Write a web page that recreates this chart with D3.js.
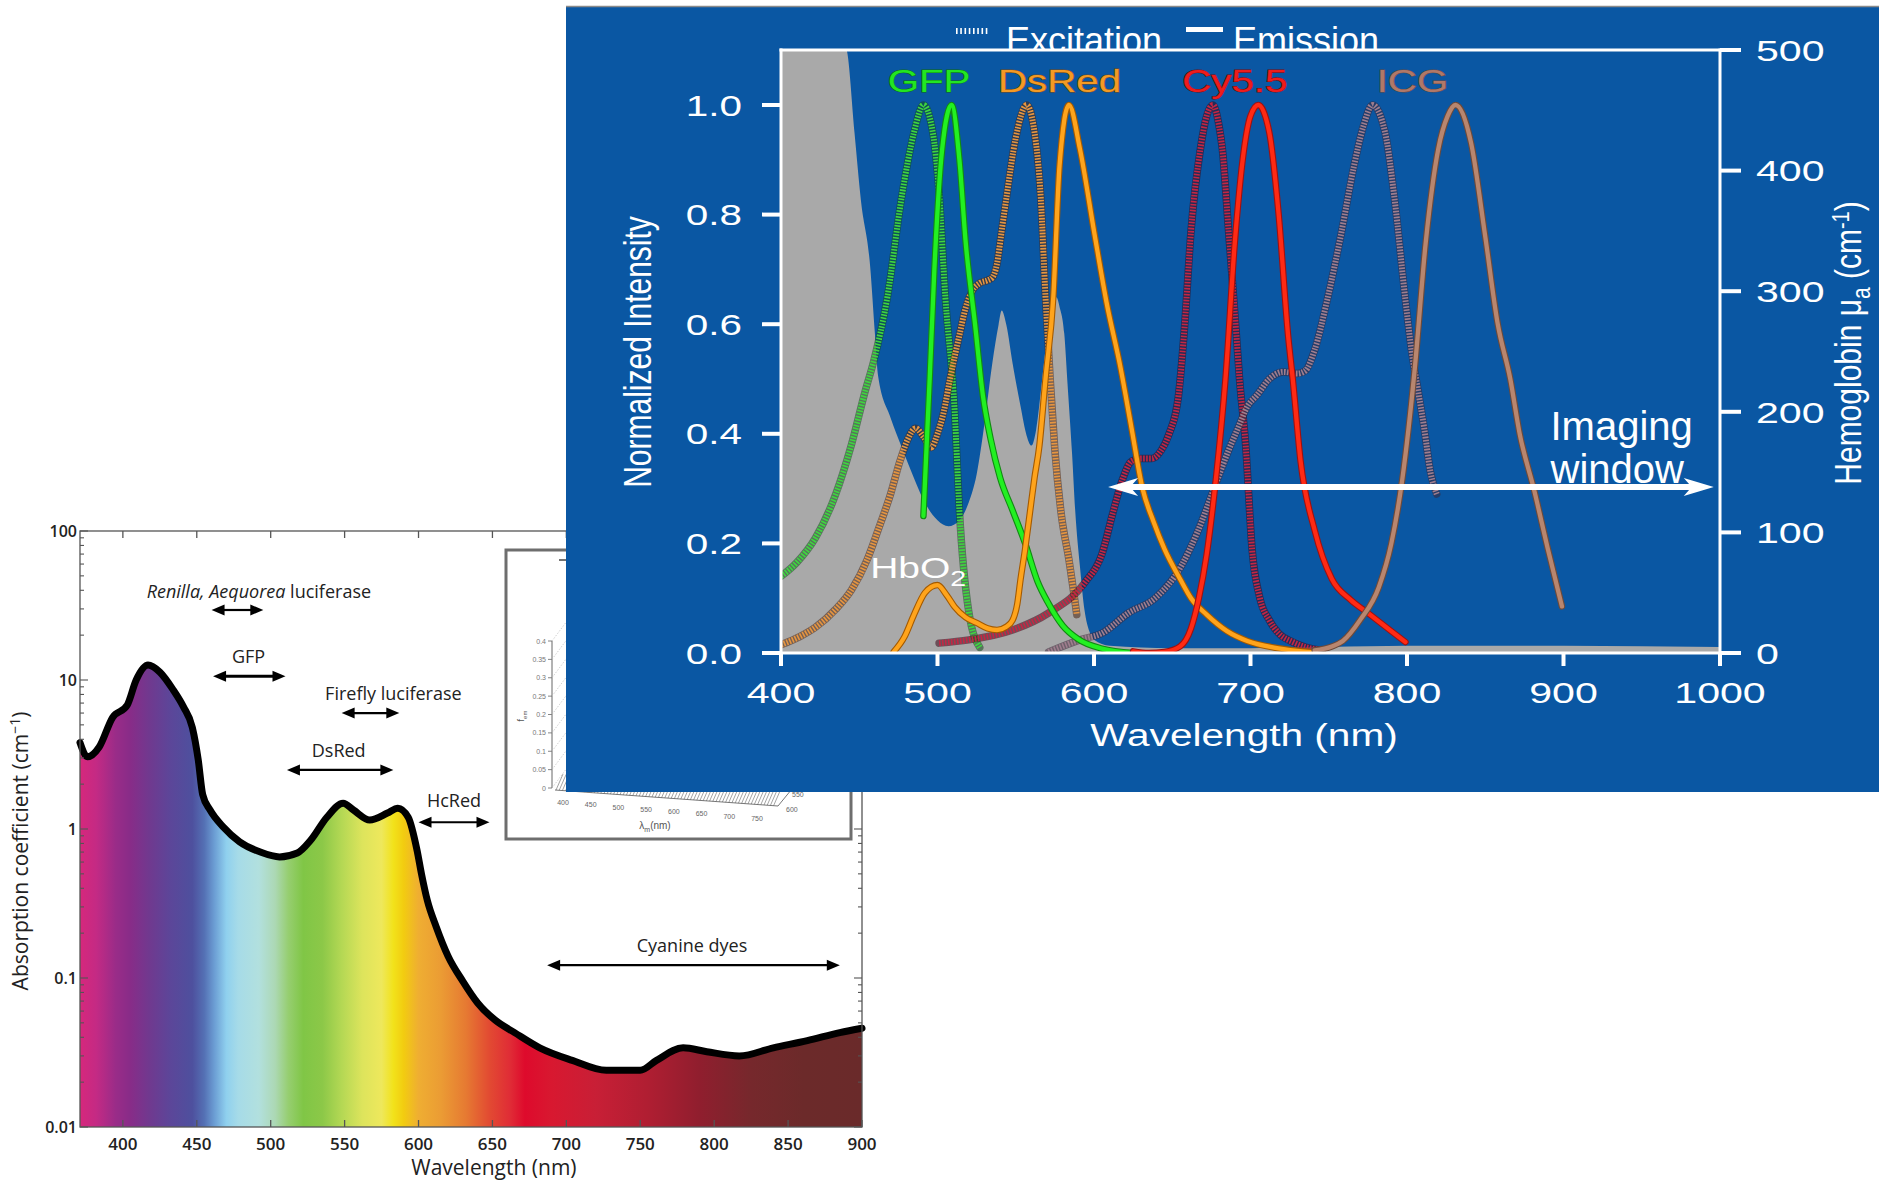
<!DOCTYPE html>
<html>
<head>
<meta charset="utf-8">
<script src="https://cdn.jsdelivr.net/npm/d3@7"></script>
<style>
  body { margin: 0; background: #fff; }
  svg { display: block; }
</style>
</head>
<body>
<div id="chart"></div>
<script>
// ---------- left figure: tissue absorption (log scale) ----------
const absorption = [
  [371, 3.8], [376, 3.05], [384, 3.55], [393, 5.6], [403, 6.8], [409, 10], [417, 12.6], [425, 11.3],
  [434, 8.6], [441, 6.6], [447, 4.8], [451, 2.9], [454, 1.7], [459, 1.34], [468, 1.03], [479, 0.82],
  [493, 0.70], [506, 0.65], [518, 0.69], [527, 0.84], [538, 1.2], [549, 1.49], [556, 1.34], [567, 1.15],
  [579, 1.28], [586, 1.38], [593, 1.2], [599, 0.72], [602, 0.5], [606, 0.33], [612, 0.22], [620, 0.14],
  [630, 0.095], [640, 0.068], [652, 0.052], [665, 0.043], [682, 0.034], [704, 0.028], [727, 0.024],
  [750, 0.024], [761, 0.028], [779, 0.034], [795, 0.032], [817, 0.030], [840, 0.034], [863, 0.038],
  [885, 0.043], [900, 0.046]
];
const spectrumStops = [
  [371, "#d6287c"], [382, "#c42a84"], [395, "#9a2c88"], [405, "#882c88"], [418, "#70398f"],
  [432, "#5c4699"], [447, "#4e509e"], [455, "#5470b4"], [462, "#6c9ed4"], [470, "#8fd0ee"],
  [478, "#a6dbe8"], [492, "#b2e0de"], [503, "#acd8b4"], [512, "#96ce70"], [522, "#80c646"],
  [535, "#8cc848"], [548, "#b4d854"], [562, "#dde45c"], [575, "#eee85c"], [583, "#f2e21a"],
  [590, "#f2cc10"], [600, "#efae32"], [615, "#eb9c34"], [632, "#e67a32"], [648, "#e24a32"],
  [662, "#e02c36"], [672, "#de0a2c"], [690, "#d81830"], [720, "#c81f36"], [755, "#b01e32"],
  [790, "#901e2e"], [825, "#76282c"], [860, "#6c2a2a"], [900, "#6a2a2a"]
];
const absXTicks = [400, 450, 500, 550, 600, 650, 700, 750, 800, 850, 900];
const absYTicks = [0.01, 0.1, 1, 10, 100];
const absYLabels = ["0.01", "0.1", "1", "10", "100"];

const probeNames = ["Renilla, Aequorea luciferase", "GFP", "Firefly luciferase", "DsRed", "HcRed", "Cyanine dyes"];
const probeFrom = [460, 461, 548, 511, 600, 687];
const probeTo = [495, 510, 587, 583, 648, 885];
const probeArrowY = [29.5, 10.6, 6.0, 2.49, 1.11, 0.122];
const probeTextX = [492, 485, 583, 546, 624, 785];
const probeTextY = [35.5, 13, 7.3, 3.04, 1.4, 0.15];

// inset (mostly hidden)
const insetYTicks = ["0.4", "0.35", "0.3", "0.25", "0.2", "0.15", "0.1", "0.05", "0"];
const insetXTicks = [400, 450, 500, 550, 600, 650, 700, 750];

// ---------- right figure: fluorophore spectra ----------
const hbAbs = [
  [400, 600], [442, 500], [447, 431], [451, 376], [457, 320], [460, 265], [462, 230], [470, 195],
  [477, 171], [485, 145], [491, 127], [500, 110], [507, 105], [514, 110], [520, 125], [525, 148],
  [530, 190], [535, 240], [539, 272], [541, 284], [544, 272], [548, 240], [553, 205], [557, 180],
  [560, 172], [563, 185], [567, 228], [571, 272], [574, 290], [576, 295], [578, 287], [581, 265],
  [583, 225], [586, 165], [588, 118], [591, 72], [594, 35], [597, 18], [600, 11], [610, 6], [650, 4],
  [700, 4], [750, 5], [800, 6], [900, 6], [1000, 5]
];
const gfpEx = [
  [400, 0.14], [410, 0.165], [422, 0.21], [435, 0.29], [445, 0.38], [454, 0.48], [459, 0.53],
  [468, 0.65], [477, 0.83], [485, 0.95], [491, 1.0], [497, 0.95], [501, 0.84], [505, 0.65],
  [511, 0.44], [514, 0.26], [520, 0.075], [527, 0.01]
];
const gfpEm = [
  [491, 0.25], [495, 0.5], [498, 0.7], [503, 0.92], [509, 1.0], [514, 0.9], [518, 0.75], [524, 0.6],
  [529, 0.47], [534, 0.39], [540, 0.32], [548, 0.26], [556, 0.2], [564, 0.13], [571, 0.09],
  [580, 0.05], [590, 0.025], [605, 0.008], [625, 0.0]
];
const dsredEx = [
  [400, 0.015], [412, 0.03], [422, 0.047], [435, 0.08], [445, 0.115], [455, 0.17], [462, 0.224],
  [470, 0.29], [476, 0.35], [481, 0.39], [486, 0.41], [491, 0.395], [496, 0.375], [500, 0.4],
  [504, 0.44], [508, 0.5], [514, 0.58], [518, 0.63], [522, 0.66], [527, 0.675], [532, 0.68],
  [535, 0.685], [538, 0.71], [541, 0.77], [544, 0.83], [550, 0.94], [557, 1.0], [562, 0.95],
  [566, 0.83], [569, 0.65], [572, 0.5], [575, 0.37], [579, 0.255], [584, 0.17], [589, 0.07]
];
const dsredEm = [
  [472, 0.002], [479, 0.03], [485, 0.07], [492, 0.11], [500, 0.124], [506, 0.105], [511, 0.084],
  [518, 0.065], [525, 0.055], [532, 0.045], [538, 0.042], [544, 0.048], [548, 0.06], [551, 0.09],
  [553, 0.133], [556, 0.19], [559, 0.255], [562, 0.32], [565, 0.376], [569, 0.5], [574, 0.65],
  [578, 0.89], [584, 1.0], [591, 0.92], [600, 0.77], [608, 0.64], [617, 0.52], [624, 0.41],
  [631, 0.3], [638, 0.24], [645, 0.19], [655, 0.135], [662, 0.1], [672, 0.07], [685, 0.04],
  [698, 0.022], [715, 0.01], [730, 0.004], [746, 0.0]
];
const cy55Ex = [
  [501, 0.018], [520, 0.024], [548, 0.042], [571, 0.073], [594, 0.128], [605, 0.18], [612, 0.255],
  [618, 0.315], [624, 0.35], [630, 0.355], [637, 0.355], [643, 0.37], [648, 0.4], [654, 0.47],
  [658, 0.6], [662, 0.77], [668, 0.92], [672, 0.98], [676, 1.0], [680, 0.96], [682, 0.92],
  [686, 0.77], [691, 0.58], [693, 0.5], [697, 0.376], [701, 0.19], [706, 0.1], [712, 0.06],
  [718, 0.036], [727, 0.02], [735, 0.011], [746, 0.005]
];
const cy55Em = [
  [625, 0.003], [635, 0.0], [645, 0.002], [655, 0.012], [662, 0.045], [667, 0.1], [672, 0.18],
  [678, 0.32], [684, 0.5], [690, 0.75], [695, 0.9], [700, 0.98], [705, 1.0], [712, 0.95],
  [718, 0.8], [724, 0.58], [727, 0.5], [732, 0.35], [741, 0.224], [752, 0.135], [764, 0.097],
  [775, 0.073], [789, 0.042], [799, 0.02]
];
const icgEx = [
  [571, 0.002], [591, 0.024], [605, 0.036], [622, 0.073], [639, 0.1], [656, 0.16], [666, 0.22],
  [678, 0.31], [686, 0.37], [692, 0.41], [698, 0.45], [704, 0.47], [712, 0.5], [721, 0.513],
  [730, 0.51], [735, 0.515], [741, 0.553], [749, 0.644], [758, 0.766], [766, 0.887], [772, 0.96],
  [778, 1.0], [786, 0.95], [792, 0.83], [799, 0.644], [803, 0.55], [807, 0.48], [811, 0.41],
  [815, 0.33], [819, 0.29]
];
const icgEm = [
  [741, 0.005], [752, 0.012], [759, 0.022], [770, 0.06], [782, 0.12], [790, 0.2], [797, 0.317],
  [805, 0.52], [812, 0.75], [820, 0.92], [826, 0.98], [831, 1.0], [841, 0.93], [850, 0.76],
  [858, 0.6], [866, 0.5], [872, 0.4], [881, 0.3], [890, 0.19], [899, 0.085]
];
const dyeNames = ["GFP", "DsRed", "Cy5.5", "ICG"];
const dyeLabelX = [494.6, 578, 690, 803.5];
const dyeLabelY = 1.024;
const intensityTicks = [0, 0.2, 0.4, 0.6, 0.8, 1.0];
const hbTicks = [0, 100, 200, 300, 400, 500];
const wlTicks = [400, 500, 600, 700, 800, 900, 1000];
const windowArrow = [609, 996];
const windowArrowY = 0.303;

// ----------------------------------------------------------------
const W = 1879, H = 1183;
const svg = d3.select("#chart").append("svg").attr("width", W).attr("height", H);
const defs = svg.append("defs");

// ===== left chart =====
const xA = d3.scaleLinear().domain([371, 900]).range([80, 862]);
const yA = d3.scaleLog().domain([0.01, 100]).range([1127, 531]);

const grad = defs.append("linearGradient").attr("id", "spec")
  .attr("gradientUnits", "userSpaceOnUse")
  .attr("x1", xA(371)).attr("x2", xA(900)).attr("y1", 0).attr("y2", 0);
spectrumStops.forEach(([nm, c]) => {
  grad.append("stop").attr("offset", (nm - 371) / (900 - 371)).attr("stop-color", c);
});

const left = svg.append("g").style("font-family", "'Open Sans', 'DejaVu Sans', sans-serif");

left.append("path").datum(absorption)
  .attr("d", d3.area().x(d => xA(d[0])).y0(yA(0.01)).y1(d => yA(d[1])).curve(d3.curveMonotoneX))
  .attr("fill", "url(#spec)");

left.append("path").datum(absorption)
  .attr("d", d3.line().x(d => xA(d[0])).y(d => yA(d[1])).curve(d3.curveMonotoneX))
  .attr("fill", "none").attr("stroke", "#000").attr("stroke-width", 7)
  .attr("stroke-linejoin", "round").attr("stroke-linecap", "round");

// frame and ticks
left.append("rect")
  .attr("x", xA(371)).attr("y", yA(100))
  .attr("width", xA(900) - xA(371)).attr("height", yA(0.01) - yA(100))
  .attr("fill", "none").attr("stroke", "#555").attr("stroke-width", 1.3);

absXTicks.forEach(t => {
  left.append("line").attr("x1", xA(t)).attr("x2", xA(t)).attr("y1", yA(0.01)).attr("y2", yA(0.01) - 7)
    .attr("stroke", "#555").attr("stroke-width", 1.3);
  left.append("line").attr("x1", xA(t)).attr("x2", xA(t)).attr("y1", yA(100)).attr("y2", yA(100) + 7)
    .attr("stroke", "#555").attr("stroke-width", 1.3);
  left.append("text").attr("x", xA(t)).attr("y", 1150).attr("text-anchor", "middle")
    .style("font-size", "17px").style("font-weight", 600).attr("fill", "#222").text(t);
});

yA.ticks().forEach(t => {
  const major = absYTicks.includes(t);
  const len = major ? 8 : 4;
  left.append("line").attr("x1", xA(371)).attr("x2", xA(371) + len).attr("y1", yA(t)).attr("y2", yA(t))
    .attr("stroke", "#555").attr("stroke-width", 1.1);
  left.append("line").attr("x1", xA(900)).attr("x2", xA(900) - len).attr("y1", yA(t)).attr("y2", yA(t))
    .attr("stroke", "#555").attr("stroke-width", 1.1);
});
absYTicks.forEach((t, i) => {
  left.append("text").attr("x", xA(371) - 3).attr("y", yA(t) + 6).attr("text-anchor", "end")
    .style("font-size", "16px").style("font-weight", 600).attr("fill", "#222").text(absYLabels[i]);
});

left.append("text").attr("x", xA(651)).attr("y", 1175).attr("text-anchor", "middle")
  .style("font-size", "21px").attr("fill", "#222").text("Wavelength (nm)");

const yTitle = left.append("text").attr("transform", "translate(28,851) rotate(-90)")
  .attr("text-anchor", "middle").style("font-size", "21px").attr("fill", "#222");
yTitle.append("tspan").text("Absorption coefficient (cm");
yTitle.append("tspan").attr("dy", -8).style("font-size", "14px").text("\u22121");
yTitle.append("tspan").attr("dy", 8).text(")");

// probe annotations
function arrowH(g, x1, x2, y, w, head, hw) {
  g.append("line").attr("x1", x1 + head - 1).attr("x2", x2 - head + 1).attr("y1", y).attr("y2", y)
    .attr("stroke", "#000").attr("stroke-width", w);
  g.append("path").attr("d", `M${x1},${y} L${x1 + head},${y - hw} L${x1 + head},${y + hw} Z`).attr("fill", "#000");
  g.append("path").attr("d", `M${x2},${y} L${x2 - head},${y - hw} L${x2 - head},${y + hw} Z`).attr("fill", "#000");
}
probeNames.forEach((name, i) => {
  arrowH(left, xA(probeFrom[i]), xA(probeTo[i]), yA(probeArrowY[i]), i === 1 ? 2.8 : 2.2, 13, 5.5);
  const t = left.append("text").attr("x", xA(probeTextX[i])).attr("y", yA(probeTextY[i]))
    .attr("text-anchor", "middle").style("font-size", "18px").attr("fill", "#222");
  if (i === 0) {
    t.append("tspan").style("font-style", "italic").text("Renilla, Aequorea");
    t.append("tspan").text(" luciferase");
  } else {
    t.text(name);
  }
});

// inset box (3D emission plot, mostly covered)
const inset = svg.append("g").style("font-family", "'Liberation Sans', Arial, sans-serif");
inset.append("rect").attr("x", 506).attr("y", 550).attr("width", 345).attr("height", 289)
  .attr("fill", "#fff").attr("stroke", "#6e6e6e").attr("stroke-width", 3);
const yIn = d3.scalePoint().domain(insetYTicks).range([641, 788]);
inset.append("line").attr("x1", 552).attr("x2", 552).attr("y1", 641).attr("y2", 788)
  .attr("stroke", "#666").attr("stroke-width", 1);
insetYTicks.forEach(t => {
  inset.append("line").attr("x1", 548).attr("x2", 552).attr("y1", yIn(t)).attr("y2", yIn(t))
    .attr("stroke", "#666").attr("stroke-width", 0.8);
  inset.append("text").attr("x", 546).attr("y", yIn(t) + 2.5).attr("text-anchor", "end")
    .style("font-size", "7px").attr("fill", "#777").text(t);
  inset.append("line").attr("x1", 552).attr("x2", 600).attr("y1", yIn(t)).attr("y2", yIn(t) - 64)
    .attr("stroke", "#bbb").attr("stroke-width", 0.7).attr("stroke-dasharray", "1.5,1.5");
});
inset.append("line").attr("x1", 559).attr("x2", 566).attr("y1", 560).attr("y2", 560).attr("stroke", "#444").attr("stroke-width", 1.5);
const fem = inset.append("text").attr("transform", "translate(524,716) rotate(-90)")
  .attr("text-anchor", "middle").style("font-size", "9px").attr("fill", "#555");
fem.append("tspan").text("f");
fem.append("tspan").attr("dy", 3).style("font-size", "6px").text("em");

const xIn = d3.scaleLinear().domain([400, 750]).range([563, 757]);
const yInX = d3.scaleLinear().domain([400, 750]).range([802, 818]);
const floorEdge = d3.scaleLinear().domain([555, 778]).range([790, 806]);
d3.range(556, 776, 3.2).forEach(x => {
  inset.append("line").attr("x1", x).attr("y1", floorEdge(x)).attr("x2", x + 7).attr("y2", floorEdge(x) - 16)
    .attr("stroke", "#666").attr("stroke-width", 0.6);
});
inset.append("line").attr("x1", 555).attr("y1", 790).attr("x2", 778).attr("y2", 806).attr("stroke", "#555").attr("stroke-width", 0.8);
inset.append("line").attr("x1", 778).attr("y1", 806).attr("x2", 796).attr("y2", 784).attr("stroke", "#555").attr("stroke-width", 0.8);
insetXTicks.forEach(t => {
  inset.append("text").attr("x", xIn(t)).attr("y", yInX(t) + 3).attr("text-anchor", "middle")
    .style("font-size", "7px").attr("fill", "#666").text(t);
});
inset.append("text").attr("x", 786).attr("y", 812).style("font-size", "7px").attr("fill", "#666").text("600");
inset.append("text").attr("x", 792).attr("y", 797).style("font-size", "7px").attr("fill", "#666").text("550");
const lam = inset.append("text").attr("x", 655).attr("y", 829).attr("text-anchor", "middle")
  .style("font-size", "10px").attr("fill", "#555");
lam.append("tspan").text("\u03bb");
lam.append("tspan").attr("dy", 3).style("font-size", "7px").text("m");
lam.append("tspan").attr("dy", -3).text("(nm)");

// ===== right chart (blue panel) =====
const xB = d3.scaleLinear().domain([400, 1000]).range([781, 1720]);
const yL = d3.scaleLinear().domain([0, 1]).range([653, 105]);
const yR = d3.scaleLinear().domain([0, 500]).range([653, 50]);
const SX = 1.37; // source chart was stretched horizontally

const blue = svg.append("g").style("font-family", "'Liberation Sans', Arial, sans-serif");
blue.append("rect").attr("x", 566).attr("y", 6).attr("width", W - 566).attr("height", 786).attr("fill", "#0a57a3");
blue.append("line").attr("x1", 566).attr("x2", W).attr("y1", 6.5).attr("y2", 6.5).attr("stroke", "#8a8a8a").attr("stroke-width", 1.5);

defs.append("clipPath").attr("id", "plotClip").append("rect")
  .attr("x", xB(400)).attr("y", yR(500)).attr("width", xB(1000) - xB(400)).attr("height", yR(0) - yR(500));
defs.append("clipPath").attr("id", "legClip").append("rect")
  .attr("x", 566).attr("y", 6).attr("width", W - 566).attr("height", 45);

const plot = blue.append("g").attr("clip-path", "url(#plotClip)");
plot.append("path").datum(hbAbs)
  .attr("d", d3.area().x(d => xB(d[0])).y0(yR(0)).y1(d => yR(d[1])).curve(d3.curveMonotoneX))
  .attr("fill", "#a9a9a9");

const lineL = d3.line().x(d => xB(d[0])).y(d => yL(d[1])).curve(d3.curveMonotoneX);
const series = [
  { data: gfpEx, color: "#3fd63f", dark: "#124a1c", dotted: true },
  { data: dsredEx, color: "#e69540", dark: "#4a2410", dotted: true },
  { data: cy55Ex, color: "#c42644", dark: "#3a0818", dotted: true },
  { data: icgEx, color: "#a07e8e", dark: "#3c2638", dotted: true },
  { data: gfpEm, color: "#22f022", dark: "#128a12", dotted: false },
  { data: dsredEm, color: "#ffa41c", dark: "#a45a00", dotted: false },
  { data: cy55Em, color: "#ff2a14", dark: "#a01010", dotted: false },
  { data: icgEm, color: "#b8866f", dark: "#6e4a3a", dotted: false }
];
series.forEach(s => {
  plot.append("path").datum(s.data).attr("d", lineL).attr("fill", "none")
    .attr("stroke", s.dark).attr("stroke-width", s.dotted ? 7.5 : 6.5)
    .attr("stroke-opacity", s.dotted ? 0.55 : 1)
    .attr("stroke-linejoin", "round").attr("stroke-linecap", "round");
  plot.append("path").datum(s.data).attr("d", lineL).attr("fill", "none")
    .attr("stroke", s.color).attr("stroke-width", s.dotted ? 6 : 4.3)
    .attr("stroke-dasharray", s.dotted ? "1.6,1.4" : null)
    .attr("stroke-linejoin", "round").attr("stroke-linecap", s.dotted ? "butt" : "round");
});

// frame
const white = "#fff";
[[xB(400), yR(500), xB(1000), yR(500)], [xB(400), yR(0), xB(1000), yR(0)],
 [xB(400), yR(500), xB(400), yR(0)], [xB(1000), yR(500), xB(1000), yR(0)]].forEach(([x1, y1, x2, y2]) => {
  blue.append("line").attr("x1", x1).attr("y1", y1).attr("x2", x2).attr("y2", y2)
    .attr("stroke", white).attr("stroke-width", 3).attr("stroke-linecap", "square");
});

function sText(g, x, y, str, size, anchor, sx) {
  return g.append("text")
    .attr("transform", `translate(${x},${y}) scale(${sx},1)`)
    .attr("text-anchor", anchor).style("font-size", size + "px").attr("fill", white).text(str);
}

intensityTicks.forEach(t => {
  blue.append("line").attr("x1", xB(400) - 19).attr("x2", xB(400)).attr("y1", yL(t)).attr("y2", yL(t))
    .attr("stroke", white).attr("stroke-width", 4);
  sText(blue, 742, yL(t) + 10.5, d3.format(".1f")(t), 29.5, "end", SX);
});
hbTicks.forEach(t => {
  blue.append("line").attr("x1", xB(1000)).attr("x2", xB(1000) + 21).attr("y1", yR(t)).attr("y2", yR(t))
    .attr("stroke", white).attr("stroke-width", 4);
  sText(blue, 1756, yR(t) + 10.8, t, 30, "start", SX);
});
wlTicks.forEach(t => {
  blue.append("line").attr("x1", xB(t)).attr("x2", xB(t)).attr("y1", yR(0)).attr("y2", yR(0) + 13)
    .attr("stroke", white).attr("stroke-width", 4);
  sText(blue, xB(t), 703, t, 30, "middle", SX);
});

sText(blue, 1244, 746, "Wavelength (nm)", 31, "middle", 1.31);

blue.append("text").attr("transform", `translate(651,352) scale(1.3,1) rotate(-90)`)
  .attr("text-anchor", "middle").style("font-size", "30px").attr("fill", white).text("Normalized Intensity");

const hbTitle = blue.append("text").attr("transform", `translate(1861,343) scale(1.22,1) rotate(-90)`)
  .attr("text-anchor", "middle").style("font-size", "30px").attr("fill", white);
hbTitle.append("tspan").text("Hemoglobin \u03bc");
hbTitle.append("tspan").attr("dy", 7).style("font-size", "21px").text("a");
hbTitle.append("tspan").attr("dy", -7).text(" (cm");
hbTitle.append("tspan").attr("dy", -10).style("font-size", "20px").text("-1");
hbTitle.append("tspan").attr("dy", 10).text(")");

// dye labels
const dyeFill = ["#22e622", "#f39a24", "#ee1c1c", "#b07868"];
const dyeStroke = ["#0e6a0e", "#7a4a10", "#7a0a0a", "#6a4a40"];
dyeNames.forEach((n, i) => {
  sText(blue, xB(dyeLabelX[i]), yL(dyeLabelY), n, 31, "middle", 1.3)
    .attr("fill", dyeFill[i]).attr("stroke", dyeStroke[i]).attr("stroke-width", 1)
    .style("paint-order", "stroke");
});

// HbO2
const hb = blue.append("text").attr("transform", `translate(${xB(457)},${yL(0.137)}) scale(1.3,1)`)
  .style("font-size", "30px").attr("fill", white);
hb.append("tspan").text("HbO");
hb.append("tspan").attr("dy", 8).style("font-size", "22px").text("2");

// imaging window
blue.append("text").attr("x", xB(891.7)).attr("y", yL(0.389)).style("font-size", "40px").attr("fill", white).text("Imaging");
blue.append("text").attr("x", xB(891.7)).attr("y", yL(0.31)).style("font-size", "40px").attr("fill", white).text("window");

const ax1 = xB(windowArrow[0]), ax2 = xB(windowArrow[1]), ay = yL(windowArrowY);
blue.append("line").attr("x1", ax1 + 12).attr("x2", ax2 - 12).attr("y1", ay).attr("y2", ay)
  .attr("stroke", white).attr("stroke-width", 6);
blue.append("path").attr("d", `M${ax1},${ay} L${ax1 + 30},${ay - 9} L${ax1 + 22},${ay} L${ax1 + 30},${ay + 9} Z`).attr("fill", white);
blue.append("path").attr("d", `M${ax2},${ay} L${ax2 - 30},${ay - 9} L${ax2 - 22},${ay} L${ax2 - 30},${ay + 9} Z`).attr("fill", white);

// legend above the plot
const leg = blue.append("g").attr("clip-path", "url(#legClip)");
leg.append("line").attr("x1", 956).attr("x2", 990).attr("y1", 31).attr("y2", 31)
  .attr("stroke", white).attr("stroke-width", 6).attr("stroke-dasharray", "1.6,2.65");
leg.append("text").attr("x", 1006).attr("y", 53).style("font-size", "36px").attr("fill", white).text("Excitation");
leg.append("rect").attr("x", 1186).attr("y", 27).attr("width", 37).attr("height", 5).attr("fill", white);
leg.append("text").attr("x", 1233).attr("y", 53).style("font-size", "36px").attr("fill", white).text("Emission");
</script>
</body>
</html>
